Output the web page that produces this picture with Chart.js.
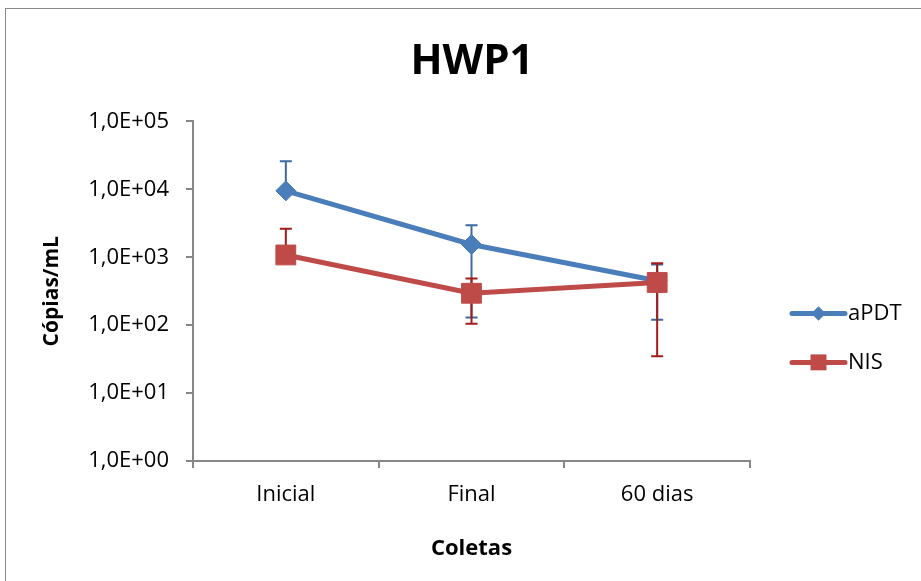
<!DOCTYPE html>
<html>
<head>
<meta charset="utf-8">
<script src="https://cdn.jsdelivr.net/npm/chart.js@4"></script>
<style>
  body { margin: 0; background: #fff; overflow: hidden; }
</style>
</head>
<body>
<canvas id="hwp" width="921" height="581"></canvas>
<script>
// data
let coletas = ['Inicial', 'Final', '60 dias']
let apdtMean = [9500, 1540, 450]
let apdtSd = [16500, 1410, 330]
let nisMean = [1080, 295, 425]
let nisSd = [1540, 190, 390]
let yTicks = [1, 10, 100, 1000, 10000, 100000]
let seriesNames = ['aPDT', 'NIS']

let blue = '#4A7EBB'
let red = '#BE4B48'
let blueErr = '#3D6AA0'
let redErr = '#A31B1B'
let axisGrey = '#878787'

Chart.defaults.font.family = 'Open Sans'
Chart.defaults.color = '#000'

// error bars, drawn under the markers of each series
let errorBars = {
    id: 'errorBars',
    beforeDatasetDraw(chart, args) {
        let ds = chart.data.datasets[args.index]
        let meta = args.meta
        let y = chart.scales.y
        let ctx = chart.ctx
        ctx.save()
        ctx.strokeStyle = ds.errColor
        ctx.lineWidth = 2
        meta.data.forEach((pt, i) => {
            let m = ds.data[i], s = ds.sd[i]
            let top = y.getPixelForValue(m + s)
            let bottom = m - s > 0 ? y.getPixelForValue(m - s) : pt.y
            ctx.beginPath()
            ctx.moveTo(pt.x, top)
            ctx.lineTo(pt.x, bottom)
            ctx.moveTo(pt.x - 6, top)
            ctx.lineTo(pt.x + 6, top)
            if (m - s > 0) {
                ctx.moveTo(pt.x - 6, bottom)
                ctx.lineTo(pt.x + 6, bottom)
            }
            ctx.stroke()
        })
        ctx.restore()
    }
}

// outer frame + legend with line and marker
let frameLegend = {
    id: 'frameLegend',
    beforeDraw(chart) {
        let ctx = chart.ctx
        ctx.save()
        ctx.fillStyle = '#fff'
        ctx.fillRect(0, 0, chart.width, chart.height)
        ctx.strokeStyle = '#8a8a8a'
        ctx.lineWidth = 1
        ctx.strokeRect(5.5, 8.5, chart.width + 20, chart.height + 20)
        ctx.restore()
    },
    afterDraw(chart) {
        let ctx = chart.ctx
        let area = chart.chartArea
        ctx.save()
        chart.data.datasets.forEach((ds, i) => {
            let yy = area.top + 192 + i * 49
            let x0 = area.right + 42, x1 = area.right + 95
            ctx.strokeStyle = ds.borderColor
            ctx.lineWidth = 5
            ctx.lineCap = 'round'
            ctx.beginPath()
            ctx.moveTo(x0, yy)
            ctx.lineTo(x1, yy)
            ctx.stroke()
            ctx.fillStyle = ds.borderColor
            Chart.helpers.drawPoint(ctx, {pointStyle: ds.pointStyle, radius: ds.pointStyle == 'rect' ? 11 : 7, borderWidth: 0, rotation: 0}, (x0 + x1) / 2, yy)
            ctx.fill()
            ctx.fillStyle = '#000'
            ctx.font = '22px "Open Sans"'
            ctx.textBaseline = 'middle'
            ctx.fillText(ds.label, x1 + 3, yy)
        })
        ctx.restore()
    }
}

new Chart(document.getElementById('hwp'), {
    type: 'line',
    data: {
        labels: coletas,
        datasets: [{
            label: seriesNames[0],
            data: apdtMean,
            sd: apdtSd,
            errColor: blueErr,
            borderColor: blue,
            backgroundColor: blue,
            borderWidth: 5,
            pointStyle: 'rectRot',
            pointRadius: 10,
            pointBorderWidth: 1,
            pointBackgroundColor: blue,
            pointBorderColor: blue,
            order: 1
        },
        {
            label: seriesNames[1],
            data: nisMean,
            sd: nisSd,
            errColor: redErr,
            borderColor: red,
            backgroundColor: red,
            borderWidth: 5,
            pointStyle: 'rect',
            pointRadius: 14,
            pointBorderWidth: 1,
            pointBackgroundColor: red,
            pointBorderColor: red,
            order: 0
        }]
    },
    options: {
        responsive: false,
        animation: false,
        devicePixelRatio: 1,
        layout: { padding: { left: 23, right: 0, top: 0, bottom: 0 } },
        plugins: {
            legend: { display: false },
            tooltip: { enabled: false },
            title: {
                display: true,
                text: 'HWP1',
                font: { size: 42, weight: 'bold' },
                padding: { top: 37, bottom: 34 }
            }
        },
        scales: {
            x: {
                offset: true,
                grid: { offset: true, drawOnChartArea: false, tickLength: 7, color: axisGrey, lineWidth: 2 },
                border: { color: axisGrey, width: 2 },
                ticks: { font: { size: 22 }, padding: 14, maxRotation: 0 },
                title: { display: true, text: 'Coletas', font: { size: 22, weight: 'bold' }, padding: { top: 0, bottom: 19 } },
                afterFit: s => { s.height = 120 }
            },
            y: {
                type: 'logarithmic',
                min: 1,
                max: 100000,
                afterBuildTicks: s => { s.ticks = yTicks.map(v => ({ value: v })) },
                grid: { drawOnChartArea: false, tickLength: 7, color: axisGrey, lineWidth: 2 },
                border: { color: axisGrey, width: 2 },
                ticks: {
                    font: { size: 22 },
                    padding: 17,
                    callback: v => '1,0E+' + String(Math.round(Math.log10(v))).padStart(2, '0')
                },
                title: { display: true, text: 'Cópias/mL', font: { size: 21, weight: 'bold' }, padding: { top: 16, bottom: 0 } },
                afterFit: s => { s.width = 170 }
            },
            // empty right-hand box that keeps room for the legend
            side: {
                type: 'linear',
                position: 'right',
                grid: { display: false },
                border: { display: false },
                ticks: { display: false },
                afterFit: s => { s.width = 171 }
            }
        }
    },
    plugins: [errorBars, frameLegend]
})
</script>
</body>
</html>
